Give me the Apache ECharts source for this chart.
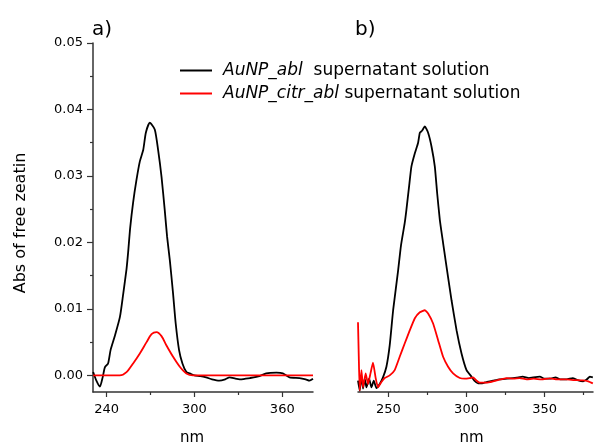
<!DOCTYPE html>
<html>
<head>
<meta charset="utf-8">
<script src="https://cdn.jsdelivr.net/npm/echarts@6/dist/echarts.min.js"></script>
<style>
html,body{margin:0;padding:0;background:#fff;}
#chart{width:594px;height:443px;}
</style>
</head>
<body>
<div id="chart"></div>
<script>
// ---- Panel a) data ----
var aBlackX = [230.8,233,235.4,237.3,238.8,241,242.7,245.7,249.1,251.3,253.6,254.7,256.1,258.1,260.4,262.7,265,266.8,269.5,272.9,275.2,277.5,279.7,281.3,283.2,285.4,287.2,289.5,291.8,294.5,296.8,300,304,308,312,317,321,324,328,331,335,338,344.5,349,356,360.4,365,371.8,376,378.6,381];
var aBlackY = [0.0005,-0.0008,-0.0017,-0.0003,0.0012,0.0018,0.0038,0.006,0.0088,0.0122,0.016,0.0185,0.0222,0.026,0.0294,0.0322,0.0339,0.0365,0.038,0.037,0.0339,0.0299,0.0249,0.0209,0.0173,0.0123,0.0078,0.0038,0.0018,0.0005,0.0003,0.0,-0.0001,-0.0003,-0.0006,-0.0008,-0.0006,-0.0003,-0.0005,-0.0006,-0.0005,-0.0004,-0.0001,0.0003,0.0004,0.0003,-0.0003,-0.0004,-0.0006,-0.0008,-0.0005];
var aRedX = [230.8,240,249,253.6,258.1,262.7,267.3,270.7,274.1,277.5,280.9,285.4,290,294.5,299,310,381];
var aRedY = [0,0,0,0.0005,0.0018,0.0033,0.005,0.0062,0.0065,0.0059,0.0045,0.0028,0.0013,0.0003,0,0,0];

// ---- Panel b) data ----
var bBlackX = [230.5,231.6,232.7,233.7,234.8,235.9,237.6,239.1,240.6,242.3,244.4,246.5,248.7,250.8,253,256.2,258,260.4,261.5,263.2,264.7,266.9,269,270.1,271.5,273.3,275.4,277.6,279.7,281.2,282.9,285,286.6,290.4,293.6,296.8,300,303.2,305,307.4,310,312.8,317,321.3,326,332,336,340,342.7,347,350,353.4,357,360,364.1,368,371,374.7,377,379,380.9];
var bBlackY = [-0.0008,-0.0023,0.0,-0.002,-0.0005,-0.0018,-0.0005,-0.0018,-0.0008,-0.0019,-0.0013,-0.0003,0.0013,0.0045,0.0098,0.0158,0.0195,0.0229,0.0249,0.0284,0.0314,0.0334,0.035,0.0365,0.0368,0.03745,0.0365,0.0344,0.0314,0.0274,0.0234,0.0199,0.0173,0.0113,0.0068,0.0033,0.0008,-0.0002,-0.0008,-0.0012,-0.0012,-0.001,-0.0008,-0.0006,-0.0005,-0.00035,-0.0002,-0.0004,-0.0003,-0.0002,-0.0005,-0.0005,-0.0003,-0.0006,-0.0006,-0.0004,-0.0007,-0.0009,-0.0006,-0.0002,-0.0003];
var bRedX = [230.5,231,231.6,232.7,233.7,235.4,236.9,238.5,240.1,241.9,243.3,245.5,247.6,250.8,254,257.2,260.4,263.7,266.9,270.1,273.3,275.4,278.6,281.8,285,288.2,291.4,295.7,298.9,302.1,304.2,306,308.5,312,315,320,325.6,330,334,338.5,343,348,353.4,358,364,369,374.7,378,380.9];
var bRedY = [0.008,0.0028,-0.0023,0.0008,-0.0018,0.0003,-0.0013,0.0003,0.0019,-0.0005,-0.0018,-0.001,-0.0004,0.0,0.0008,0.0028,0.0048,0.0068,0.0086,0.0095,0.0098,0.0093,0.0078,0.0053,0.0028,0.0013,0.0003,-0.0004,-0.0005,-0.0004,-0.0003,-0.0007,-0.0011,-0.0011,-0.001,-0.0007,-0.0004,-0.0005,-0.0004,-0.0006,-0.0005,-0.0006,-0.00045,-0.0006,-0.0006,-0.0007,-0.00075,-0.0009,-0.0012];

// ---- Ticks / labels ----
var aXMajor = [240, 300, 360];
var aXMinor = [270, 330];
var bXMajor = [250, 300, 350];
var bXMinor = [275, 325, 375];
var yMajor = [0, 0.01, 0.02, 0.03, 0.04, 0.05];
var yMinor = [0.005, 0.015, 0.025, 0.035, 0.045];
var seriesNames = ['AuNP_abl', 'AuNP_citr_abl'];
var panelLabels = ['a)', 'b)'];

function zip(xs, ys) { return xs.map(function (x, i) { return [x, ys[i]]; }); }

var FONT = 'DejaVu Sans';
var AXC = '#333';

function majorX(grid, min, max, ticks, nameShift) {
  return {
    type: 'value', gridIndex: grid, min: min, max: max, position: 'bottom',
    axisLine: { show: true, onZero: false, lineStyle: { color: AXC, width: 1.5 } },
    axisTick: { show: true, length: 5, customValues: ticks, lineStyle: { color: AXC, width: 1.2 } },
    axisLabel: { customValues: ticks, margin: 11, fontSize: 13, fontFamily: FONT, color: '#000' },
    splitLine: { show: false },
    name: 'nm', nameLocation: 'middle', nameGap: 39,
    nameTextStyle: { fontSize: 15, fontFamily: FONT, color: '#000', padding: [0, nameShift, 0, 0] }
  };
}
function minorX(grid, min, max, ticks) {
  return {
    type: 'value', gridIndex: grid, min: min, max: max, position: 'bottom', offset: 0,
    axisLine: { show: false, onZero: false },
    axisTick: { show: true, length: 3, customValues: ticks, lineStyle: { color: AXC, width: 1.2 } },
    axisLabel: { show: false }, splitLine: { show: false }
  };
}

var option = {
  backgroundColor: '#fff',
  animation: false,
  title: [
    { text: panelLabels[0], left: 87, top: 15, textStyle: { fontSize: 20, fontWeight: 'normal', fontFamily: FONT, color: '#000' } },
    { text: panelLabels[1], left: 350, top: 15, textStyle: { fontSize: 20, fontWeight: 'normal', fontFamily: FONT, color: '#000' } }
  ],
  legend: {
    data: seriesNames,
    orient: 'vertical', left: 180, top: 62, padding: 0,
    icon: 'rect', itemWidth: 32, itemHeight: 2, itemGap: 6,
    textStyle: {
      padding: [0, 0, 0, 6],
      rich: {
        i: { fontStyle: 'italic', fontSize: 17, fontFamily: FONT, color: '#000', lineHeight: 17 },
        n: { fontSize: 17, fontFamily: FONT, color: '#000', lineHeight: 17 }
      }
    },
    formatter: function (name) {
      return name === 'AuNP_abl' ? '{i|AuNP_abl}{n|  supernatant solution}' : '{i|AuNP_citr_abl}{n| supernatant solution}';
    }
  },
  grid: [
    { left: 93, right: 281, top: 43, bottom: 51, containLabel: false, outerBoundsMode: 'none' },
    { left: 358, right: 1, top: 43, bottom: 51, containLabel: false, outerBoundsMode: 'none' }
  ],
  xAxis: [
    majorX(0, 230.7, 381, aXMajor, 22),
    minorX(0, 230.7, 381, aXMinor),
    majorX(1, 230.5, 381, bXMajor, 8),
    minorX(1, 230.5, 381, bXMinor)
  ],
  yAxis: [
    {
      type: 'value', gridIndex: 0, min: -0.0025, max: 0.05, position: 'left',
      axisLine: { show: true, onZero: false, lineStyle: { color: AXC, width: 1.5 } },
      axisTick: { show: true, length: 6, customValues: yMajor, lineStyle: { color: AXC, width: 1.2 } },
      axisLabel: { customValues: yMajor, margin: 10, fontSize: 13, fontFamily: FONT, color: '#000',
        formatter: function (v) { return v.toFixed(2); } },
      splitLine: { show: false },
      name: 'Abs of free zeatin', nameLocation: 'middle', nameGap: 64, nameRotate: 90,
      nameTextStyle: { fontSize: 16, fontFamily: FONT, color: '#000', padding: [0, 11, 0, 0] }
    },
    {
      type: 'value', gridIndex: 0, min: -0.0025, max: 0.05, position: 'left', offset: 0,
      axisLine: { show: false, onZero: false },
      axisTick: { show: true, length: 3, customValues: yMinor, lineStyle: { color: AXC, width: 1.2 } },
      axisLabel: { show: false }, splitLine: { show: false }
    },
    {
      type: 'value', gridIndex: 1, min: -0.0025, max: 0.05, show: false,
      splitLine: { show: false }
    }
  ],
  series: [
    { name: seriesNames[0], type: 'line', xAxisIndex: 0, yAxisIndex: 0, data: zip(aBlackX, aBlackY),
      showSymbol: false, smooth: 0.2, lineStyle: { color: '#000', width: 1.8 }, itemStyle: { color: '#000' } },
    { name: seriesNames[1], type: 'line', xAxisIndex: 0, yAxisIndex: 0, data: zip(aRedX, aRedY),
      showSymbol: false, smooth: 0.3, lineStyle: { color: '#ff0000', width: 1.8 }, itemStyle: { color: '#ff0000' } },
    { name: seriesNames[0], type: 'line', xAxisIndex: 2, yAxisIndex: 2, data: zip(bBlackX, bBlackY),
      showSymbol: false, smooth: 0.15, lineStyle: { color: '#000', width: 1.8 }, itemStyle: { color: '#000' } },
    { name: seriesNames[1], type: 'line', xAxisIndex: 2, yAxisIndex: 2, data: zip(bRedX, bRedY),
      showSymbol: false, smooth: 0.15, lineStyle: { color: '#ff0000', width: 1.8 }, itemStyle: { color: '#ff0000' } }
  ]
};

var chart = echarts.init(document.getElementById('chart'), null, { renderer: 'canvas' });
chart.setOption(option);
</script>
</body>
</html>
